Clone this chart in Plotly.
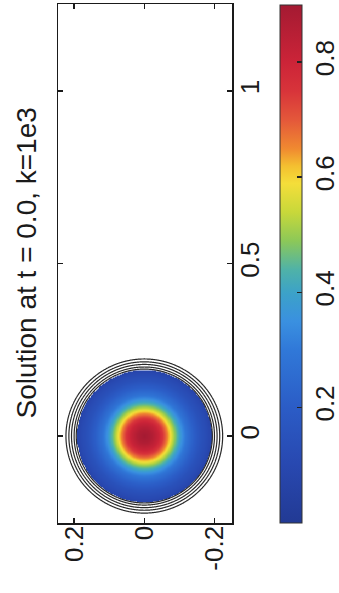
import numpy as np
import plotly.graph_objects as go

# ---- data ----
# radial profile of the solution (distance from centre, value)
radius_pts = [0.0, 0.02, 0.04, 0.052, 0.062, 0.072, 0.08, 0.088, 0.097, 0.107,
              0.12, 0.14, 0.16, 0.18, 0.19, 0.20, 0.21, 0.22, 0.23]
value_pts = [0.90, 0.87, 0.81, 0.75, 0.68, 0.61, 0.54, 0.48, 0.42, 0.35,
             0.28, 0.21, 0.15, 0.11, 0.08, 0.055, 0.035, 0.015, 0.0]
centre = (0.0, 0.0)
ring_levels = dict(start=0.01, end=0.07, size=0.015)
fill_threshold = 0.075

x_ticks = [0, 0.5, 1]
x_tick_text = ["0", "0.5", "1"]
y_ticks = [0.2, 0, -0.2]
y_tick_text = ["0.2", "0", "-0.2"]
cbar_ticks = [0.2, 0.4, 0.6, 0.8]
cbar_tick_text = ["0.2", "0.4", "0.6", "0.8"]
title_text = "Solution at t = 0.0, k=1e3"
cmin, cmax = 0.0, 0.9

# scanned "jet"-like colour scale (value, colour)
cs_values = [0.0, 0.1, 0.2, 0.3, 0.35, 0.4, 0.44, 0.49, 0.54, 0.59, 0.62, 0.65, 0.7, 0.75, 0.8, 0.9]
cs_colors = ["#223a94", "#2848b0", "#2b5cc6", "#3078d8", "#3a90e0", "#3ca2c8", "#4fb2a8",
             "#8cc858", "#c8d83a", "#f4de3a", "#f4c030", "#f08a30", "#e4583a", "#d8343a",
             "#cc2438", "#a41a32"]
colorscale = [[(v - cmin) / (cmax - cmin), c] for v, c in zip(cs_values, cs_colors)]

# ---- build the field from the read profile ----
h = np.linspace(-0.25, 0.25, 321)   # data y (screen horizontal, reversed)
v = np.linspace(-0.25, 0.25, 321)   # data x (screen vertical)
H, V = np.meshgrid(h, v)
R = np.sqrt((H - centre[1]) ** 2 + (V - centre[0]) ** 2)
Z = np.interp(R, radius_pts, value_pts, right=0.0)
Zfill = np.where(Z >= fill_threshold, Z, np.nan)

FONT = "Liberation Sans, Arial, sans-serif"
TXT = "#1a1a1a"

fig = go.Figure()
fig.add_trace(go.Heatmap(
    x=h, y=v, z=Zfill, zmin=cmin, zmax=cmax, colorscale=colorscale,
    zsmooth="best", hoverinfo="skip",
    colorbar=dict(
        x=(280 - 58) / 174, xanchor="left", xpad=0, xref="paper",
        y=0.5, yanchor="middle", ypad=0, len=518 / 519, lenmode="fraction",
        thickness=22, thicknessmode="pixels",
        outlinewidth=1, outlinecolor="#333",
        tickvals=cbar_ticks, ticktext=cbar_tick_text,
        ticks="inside", ticklen=5, tickcolor="#222", tickwidth=1.5,
        tickangle=-90, tickfont=dict(family=FONT, size=26, color=TXT),
    ),
))
fig.add_trace(go.Contour(
    x=h, y=v, z=Z, showscale=False, hoverinfo="skip",
    contours=dict(coloring="none", **ring_levels),
    line=dict(color="#2a2a2a", width=1.2),
))

axis_common = dict(
    showline=True, linecolor="#1a1a1a", linewidth=1.5, mirror="ticks",
    ticks="inside", ticklen=5, tickwidth=1.3, tickcolor="#1a1a1a",
    showgrid=False, zeroline=False, tickangle=-90, automargin=False,
    tickfont=dict(family=FONT, size=26, color=TXT),
)
fig.update_xaxes(range=[0.246, -0.25], tickvals=y_ticks, ticktext=y_tick_text,
                 ticklabelstandoff=-9, **axis_common)
fig.update_yaxes(range=[-0.252, 1.252], tickvals=x_ticks, ticktext=x_tick_text,
                 side="right", ticklabelstandoff=-6, **axis_common)

fig.add_annotation(
    text=title_text, xref="paper", yref="paper", x=(26 - 58) / 174, y=0.5,
    textangle=-90, showarrow=False, xanchor="center", yanchor="middle",
    font=dict(family=FONT, size=28, color=TXT),
)

fig.update_layout(
    width=339, height=593, autosize=False,
    margin=dict(l=58, r=107, t=4, b=70, pad=0, autoexpand=False),
    paper_bgcolor="white", plot_bgcolor="white",
    showlegend=False,
)
fig.write_html("out.html", config={"displayModeBar": False, "staticPlot": True},
               post_script="document.body.style.margin='0px';document.body.style.overflow='hidden';")
